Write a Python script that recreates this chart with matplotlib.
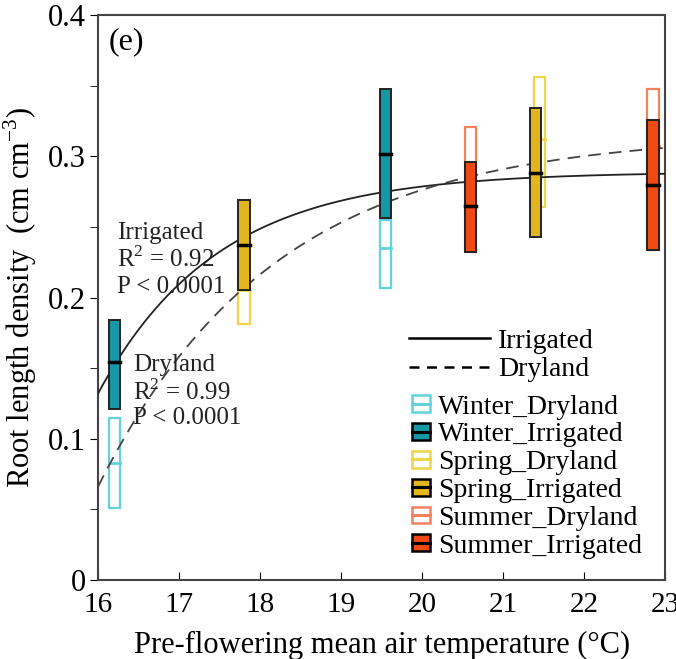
import matplotlib
matplotlib.use('Agg')
import matplotlib.pyplot as plt
import numpy as np
from matplotlib.patches import Rectangle
from matplotlib.lines import Line2D
from matplotlib.legend_handler import HandlerBase

plt.rcParams['font.family'] = 'Liberation Serif'
plt.rcParams['mathtext.fontset'] = 'custom'
plt.rcParams['mathtext.rm'] = 'Liberation Serif'

# box data: season, treatment, temperature, low, median, high
seasons = ['Winter', 'Winter', 'Spring', 'Spring', 'Summer', 'Summer',
           'Winter', 'Winter', 'Spring', 'Spring', 'Summer', 'Summer']
treatments = ['Dryland', 'Irrigated'] * 6
temps = [16.2, 16.2, 17.8, 17.8, 20.6, 20.6,
         19.55, 19.55, 21.45, 21.4, 22.85, 22.85]
lows = [0.051, 0.121, 0.181, 0.205, 0.232, 0.232,
        0.207, 0.256, 0.264, 0.243, 0.234, 0.234]
medians = [0.083, 0.154, 0.205, 0.237, 0.265, 0.265,
           0.235, 0.302, 0.312, 0.288, 0.307, 0.280]
highs = [0.115, 0.184, 0.215, 0.269, 0.321, 0.296,
         0.255, 0.348, 0.356, 0.334, 0.348, 0.326]

# fitted exponential curves  y = a - b*exp(-c*(T-16))
irr_fit = (0.289, 0.157, 0.68)
dry_fit = (0.316, 0.250, 0.46)

fill_col = {'Winter': '#1597a6', 'Spring': '#e3b51c', 'Summer': '#ee4a12'}
dry_edge = {'Winter': '#62d3dc', 'Spring': '#f0d548', 'Summer': '#f3825c'}

fig = plt.figure(figsize=(6.76, 6.59), dpi=100)
ax = fig.add_axes([0.145, 0.12, 0.839, 0.857])

# ==================== curves ====================
t = np.linspace(16, 23, 200)
a, b, c = irr_fit
ax.plot(t, a - b * np.exp(-c * (t - 16)), color='#222222', lw=1.3, zorder=3)
a, b, c = dry_fit
ax.plot(t, a - b * np.exp(-c * (t - 16)), color='#444444', lw=1.3,
        ls=(0, (7, 4.5)), zorder=3)

# ==================== boxes ====================
w = 0.14
for s, tr, x, lo, md, hi in zip(seasons, treatments, temps, lows, medians, highs):
    if tr == 'Dryland':
        r = Rectangle((x - w / 2, lo), w, hi - lo, facecolor='white',
                      edgecolor=dry_edge[s], lw=1.6, zorder=2)
        ax.add_patch(r)
        ax.plot([x - w / 2, x + w / 2], [md, md], color=dry_edge[s], lw=2, zorder=2)
    else:
        r = Rectangle((x - w / 2, lo), w, hi - lo, facecolor=fill_col[s],
                      edgecolor='#222222', lw=1.4, zorder=4)
        ax.add_patch(r)
        ax.plot([x - w / 2, x + w / 2], [md, md], color='black', lw=2.5, zorder=5)

ax.set_xlim(16, 23)
ax.set_ylim(0, 0.4)
ax.set_xticks(np.arange(16, 24, 1))
ax.set_yticks([0, 0.1, 0.2, 0.3, 0.4])
ax.set_yticklabels(['0', '0.1', '0.2', '0.3', '0.4'])
ax.set_yticks(np.arange(0.05, 0.4, 0.1), minor=True)
ax.tick_params(axis='y', which='both', direction='out', length=6, labelsize=22, pad=3)
ax.tick_params(axis='x', direction='in', length=6, labelsize=21, pad=9)
for sp in ax.spines.values():
    sp.set_color('#444444')
    sp.set_linewidth(1.5)

ax.set_ylabel('Root length density  (cm cm$^{-3}$)', fontsize=22, labelpad=6)
ax.set_xlabel('Pre-flowering mean air temperature (°C)', fontsize=22, labelpad=9)

# ==================== annotations ====================
ax.text(16.13, 0.381, '(e)', fontsize=23, va='center')
ax.text(16.23, 0.246, 'Irrigated', fontsize=18, va='center', color='#222222')
ax.text(16.23, 0.227, 'R$^2$ = 0.92', fontsize=18, va='center', color='#222222')
ax.text(16.23, 0.2075, 'P < 0.0001', fontsize=18, va='center', color='#222222')
ax.text(16.43, 0.152, 'Dryland', fontsize=18, va='center', color='#222222')
ax.text(16.43, 0.133, 'R$^2$ = 0.99', fontsize=18, va='center', color='#222222')
ax.text(16.43, 0.115, 'P < 0.0001', fontsize=18, va='center', color='#222222')


# ==================== legends ====================
class BoxHandler(HandlerBase):
    def __init__(self, face, edge, mid):
        super().__init__()
        self.face, self.edge, self.mid = face, edge, mid

    def create_artists(self, legend, orig_handle, xdescent, ydescent,
                       width, height, fontsize, trans):
        r = Rectangle((-xdescent, -ydescent), width, height,
                      facecolor=self.face, edgecolor=self.edge, lw=1.8,
                      transform=trans)
        ym = -ydescent + height * 0.5
        l = Line2D([-xdescent, -xdescent + width], [ym, ym], color=self.mid,
                   lw=2.2, transform=trans)
        return [r, l]


line_handles = [Line2D([], [], color='black', lw=1.8),
                Line2D([], [], color='black', lw=1.8, ls=(0, (4, 3)))]
leg1 = ax.legend(line_handles, ['Irrigated', 'Dryland'], loc='upper left',
                 bbox_to_anchor=(0.549, 0.445), frameon=False, fontsize=20,
                 handlelength=2.9, handletextpad=0.3, labelspacing=0.1,
                 borderaxespad=0, borderpad=0)
ax.add_artist(leg1)

box_labels = []
box_handles = []
handler_map = {}
for s in ['Winter', 'Spring', 'Summer']:
    for tr in ['Dryland', 'Irrigated']:
        h = Rectangle((0, 0), 1, 1)
        box_handles.append(h)
        box_labels.append(s + '_' + tr)
        if tr == 'Dryland':
            handler_map[h] = BoxHandler('white', dry_edge[s], dry_edge[s])
        else:
            handler_map[h] = BoxHandler(fill_col[s], 'black', 'black')

ax.legend(box_handles, box_labels, handler_map=handler_map, loc='upper left',
          bbox_to_anchor=(0.553, 0.328), frameon=False, fontsize=20,
          handlelength=0.65, handleheight=0.55, handletextpad=0.3,
          labelspacing=0.1, borderaxespad=0, borderpad=0)

fig.savefig('out.png', dpi=100)
